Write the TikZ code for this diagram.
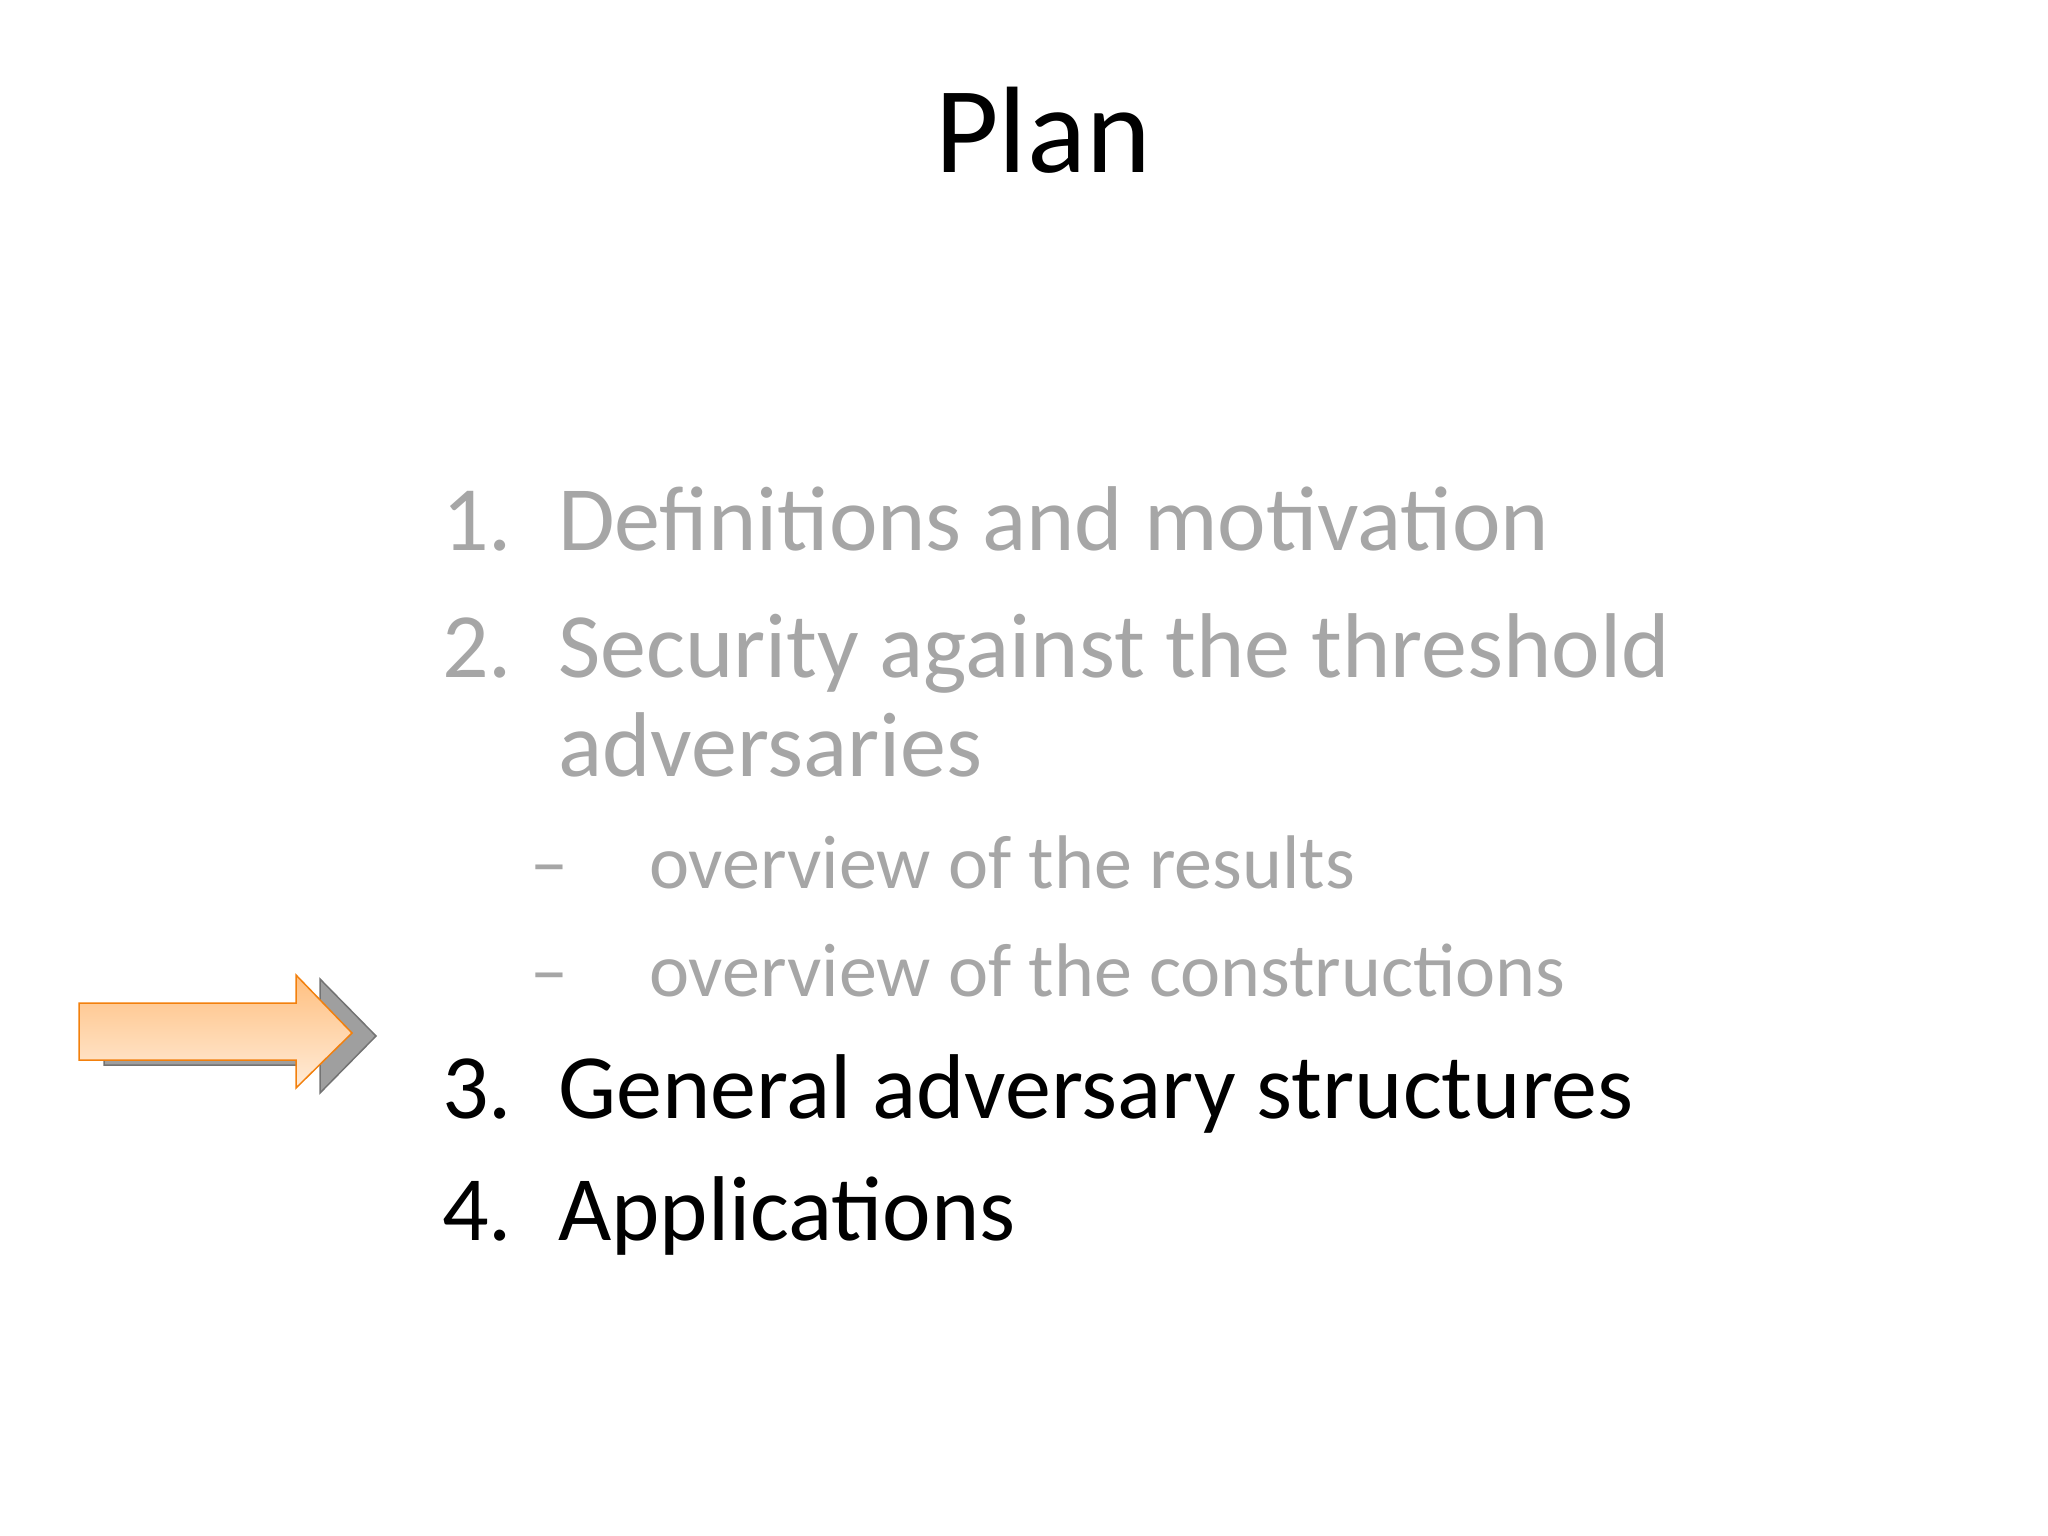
\documentclass[tikz,border=0pt]{standalone}
\usepackage{fontspec}
\setmainfont{Carlito}
\begin{document}
\begin{tikzpicture}[x=1pt,y=-1pt,
  item/.style={anchor=base west,inner sep=0pt,font=\fontsize{92}{100}\selectfont},
  sub/.style={anchor=base west,inner sep=0pt,font=\fontsize{76}{84}\selectfont},
  dim/.style={text=gray!70}]
\useasboundingbox (0,0) rectangle (2048,1536);
\node[anchor=base,inner sep=0pt,font=\fontsize{123}{130}\selectfont] (title) at (1043,172) {Plan};
\node[item,dim] (n1) at (442,550) {1.};
\node[item,dim] (t1) at (558,550) {Definitions and motivation};
\node[item,dim] (n2) at (442,677) {2.};
\node[item,dim] (t2) at (558,677) {Security against the threshold};
\node[item,dim] (t2b) at (558,776) {adversaries};
\node[sub,dim] (d1) at (530,888) {–};
\node[sub,dim] (s1) at (649,888) {overview of the results};
\node[sub,dim] (d2) at (530,996) {–};
\node[sub,dim] (s2) at (649,996) {overview of the constructions};
\node[item] (n3) at (442,1118) {3.};
\node[item] (t3) at (558,1118) {General adversary structures};
\node[item] (n4) at (442,1240) {4.};
\node[item] (t4) at (558,1240) {Applications};
% arrow shadow
\fill[gray!75,draw=gray!90!black,line width=1.5] (104,1008) -- (320,1008) -- (320,979) -- (376,1036) -- (320,1093) -- (320,1065) -- (104,1065) -- cycle;
% arrow
\shade[top color=orange!50,bottom color=orange!15] (79,1003) -- (296,1003) -- (296,975) -- (352,1033) -- (296,1088) -- (296,1060) -- (79,1060) -- cycle;
\draw[orange!80!brown,line width=1.5] (79,1003) -- (296,1003) -- (296,975) -- (352,1033) -- (296,1088) -- (296,1060) -- (79,1060) -- cycle;
\end{tikzpicture}
\end{document}
